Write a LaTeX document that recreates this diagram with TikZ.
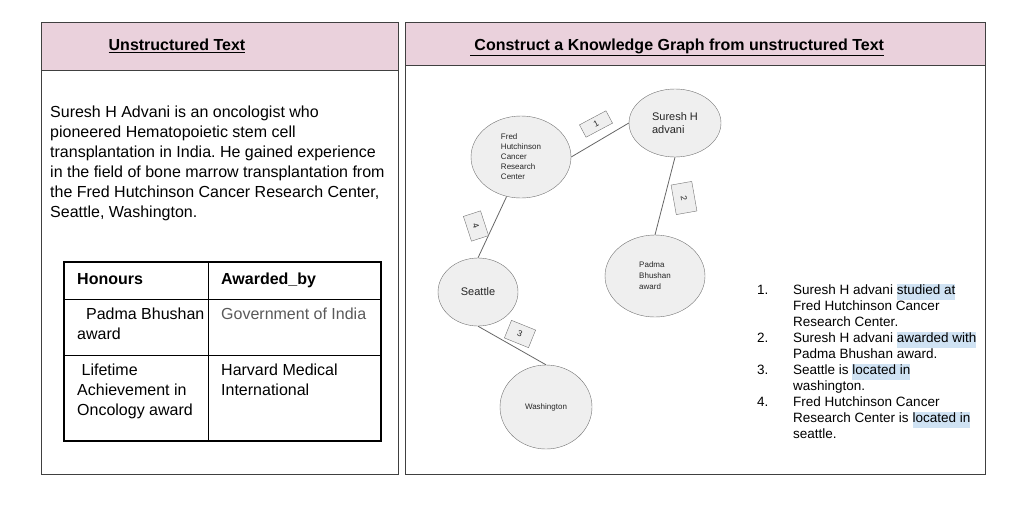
\documentclass[tikz,border=0pt]{standalone}
\usepackage{fontspec}
\setmainfont{Liberation Sans}
\usetikzlibrary{shapes.geometric}
\frenchspacing

\definecolor{bandpink}{HTML}{EAD1DC}
\definecolor{bubblegray}{HTML}{EFEFEF}
\definecolor{markblue}{HTML}{CFE2F3}
\newcommand{\hlt}[1]{{\setlength{\fboxsep}{0pt}\colorbox{markblue}{\strut#1}}}
\newcommand{\toplines}[1]{\begin{tabular}[t]{@{}l@{}}#1\end{tabular}}

\tikzset{
  panel/.style={draw=black!75, line width=1pt},
  band/.style={fill=bandpink, draw=black!75, line width=1pt},
  entity/.style={ellipse, draw=black!55, fill=bubblegray, text=black!85, align=left, inner sep=0pt},
  relbox/.style={draw=black!55, fill=bubblegray, text=black!85, font=\fontsize{8.5}{9}\selectfont, inner sep=0pt},
  edge/.style={draw=black!60, line width=0.8pt},
  cell/.style={anchor=base west, font=\fontsize{16}{20}\selectfont, inner sep=0pt},
  head/.style={anchor=base, font=\fontsize{16}{20}\selectfont\bfseries, inner sep=0pt},
}

\begin{document}
\begin{tikzpicture}[x=1pt, y=-1pt]
  \useasboundingbox (0,0) rectangle (1024,509);
  % Panels
  \draw[band] (41,22) rectangle (398,70);
  \draw[panel] (41,22) rectangle (398,474);
  \draw[band] (405,22) rectangle (985,65.5);
  \draw[panel] (405,22) rectangle (985,474);
  \node[head] (lefthead) at (177,50.7) {\underline{Unstructured Text}};
  \node[head] (righthead) at (677,50.7) {\underline{\ Construct a Knowledge Graph from unstructured Text}};

  % Unstructured text
  \node[cell] (story) at (50,117.7) {\toplines{Suresh H Advani is an oncologist who\\
    pioneered Hematopoietic stem cell\\
    transplantation in India. He gained experience\\
    in the field of bone marrow transplantation from\\
    the Fred Hutchinson Cancer Research Center,\\
    Seattle, Washington.}};

  % Honours table
  \draw[line width=1.2pt] (64,262) rectangle (381,441);
  \draw[line width=1pt] (64,299) -- (381,299);
  \draw[line width=1pt] (64,355) -- (381,355);
  \draw[line width=1pt] (208,262) -- (208,441);
  \node[cell, font=\fontsize{16}{20}\selectfont\bfseries] (honours) at (77,284) {Honours};
  \node[cell, font=\fontsize{16}{20}\selectfont\bfseries] (awardedby) at (221,284) {Awarded\_by};
  \node[cell] (padmacell) at (77,319.7) {\toplines{\ \ Padma Bhushan\\award}};
  \node[cell, text=black!65] (govcell) at (221,319.7) {Government of India};
  \node[cell] (lifecell) at (77,375.7) {\toplines{\ Lifetime\\Achievement in\\Oncology award}};
  \node[cell] (harvardcell) at (221,375.7) {\toplines{Harvard Medical\\International}};

  % Knowledge graph
  \node[entity, minimum width=100pt, minimum height=82pt, font=\fontsize{8}{10}\selectfont] (fhcrc) at (521,157) {Fred\\Hutchinson\\Cancer\\Research\\Center};
  \node[entity, minimum width=92pt, minimum height=68pt, font=\fontsize{11}{13}\selectfont] (suresh) at (675,123) {Suresh H\\advani};
  \node[entity, minimum width=100pt, minimum height=82pt, font=\fontsize{8}{11}\selectfont] (padma) at (655,276) {Padma\\Bhushan\\award};
  \node[entity, minimum width=80pt, minimum height=68pt, font=\fontsize{11}{13}\selectfont] (seattle) at (478,292) {Seattle};
  \node[entity, minimum width=92pt, minimum height=84pt, font=\fontsize{8}{10}\selectfont] (washington) at (546,407) {Washington};

  \draw[edge] (fhcrc.east) -- (suresh.west);
  \draw[edge] (suresh.south) -- (padma.north);
  \draw[edge] (seattle.south) -- (washington.north);
  \draw[edge] (fhcrc.-110) -- (seattle.north);

  \node[relbox, minimum width=30pt, minimum height=14pt, rotate=28] (rel1) at (596,124) {1};
  \node[relbox, minimum width=30pt, minimum height=21pt, rotate=-80] (rel2) at (684,198) {2};
  \node[relbox, minimum width=26pt, minimum height=18pt, rotate=-72] (rel4) at (476,226) {4};
  \node[relbox, minimum width=26pt, minimum height=19pt, rotate=-22] (rel3) at (520,334) {3};

  % Extracted facts
  \node[anchor=base west, inner sep=0pt, font=\fontsize{13.5}{16}\selectfont] (facts) at (757,294.8) {%
    \begin{tabular}[t]{@{}p{36pt}@{}l@{}}
      1. & Suresh H advani \hlt{studied at}\\
         & Fred Hutchinson Cancer\\
         & Research Center.\\
      2. & Suresh H advani \hlt{awarded with}\\
         & Padma Bhushan award.\\
      3. & Seattle is \hlt{located in}\\
         & washington.\\
      4. & Fred Hutchinson Cancer\\
         & Research Center is \hlt{located in}\\
         & seattle.
    \end{tabular}};
\end{tikzpicture}
\end{document}
